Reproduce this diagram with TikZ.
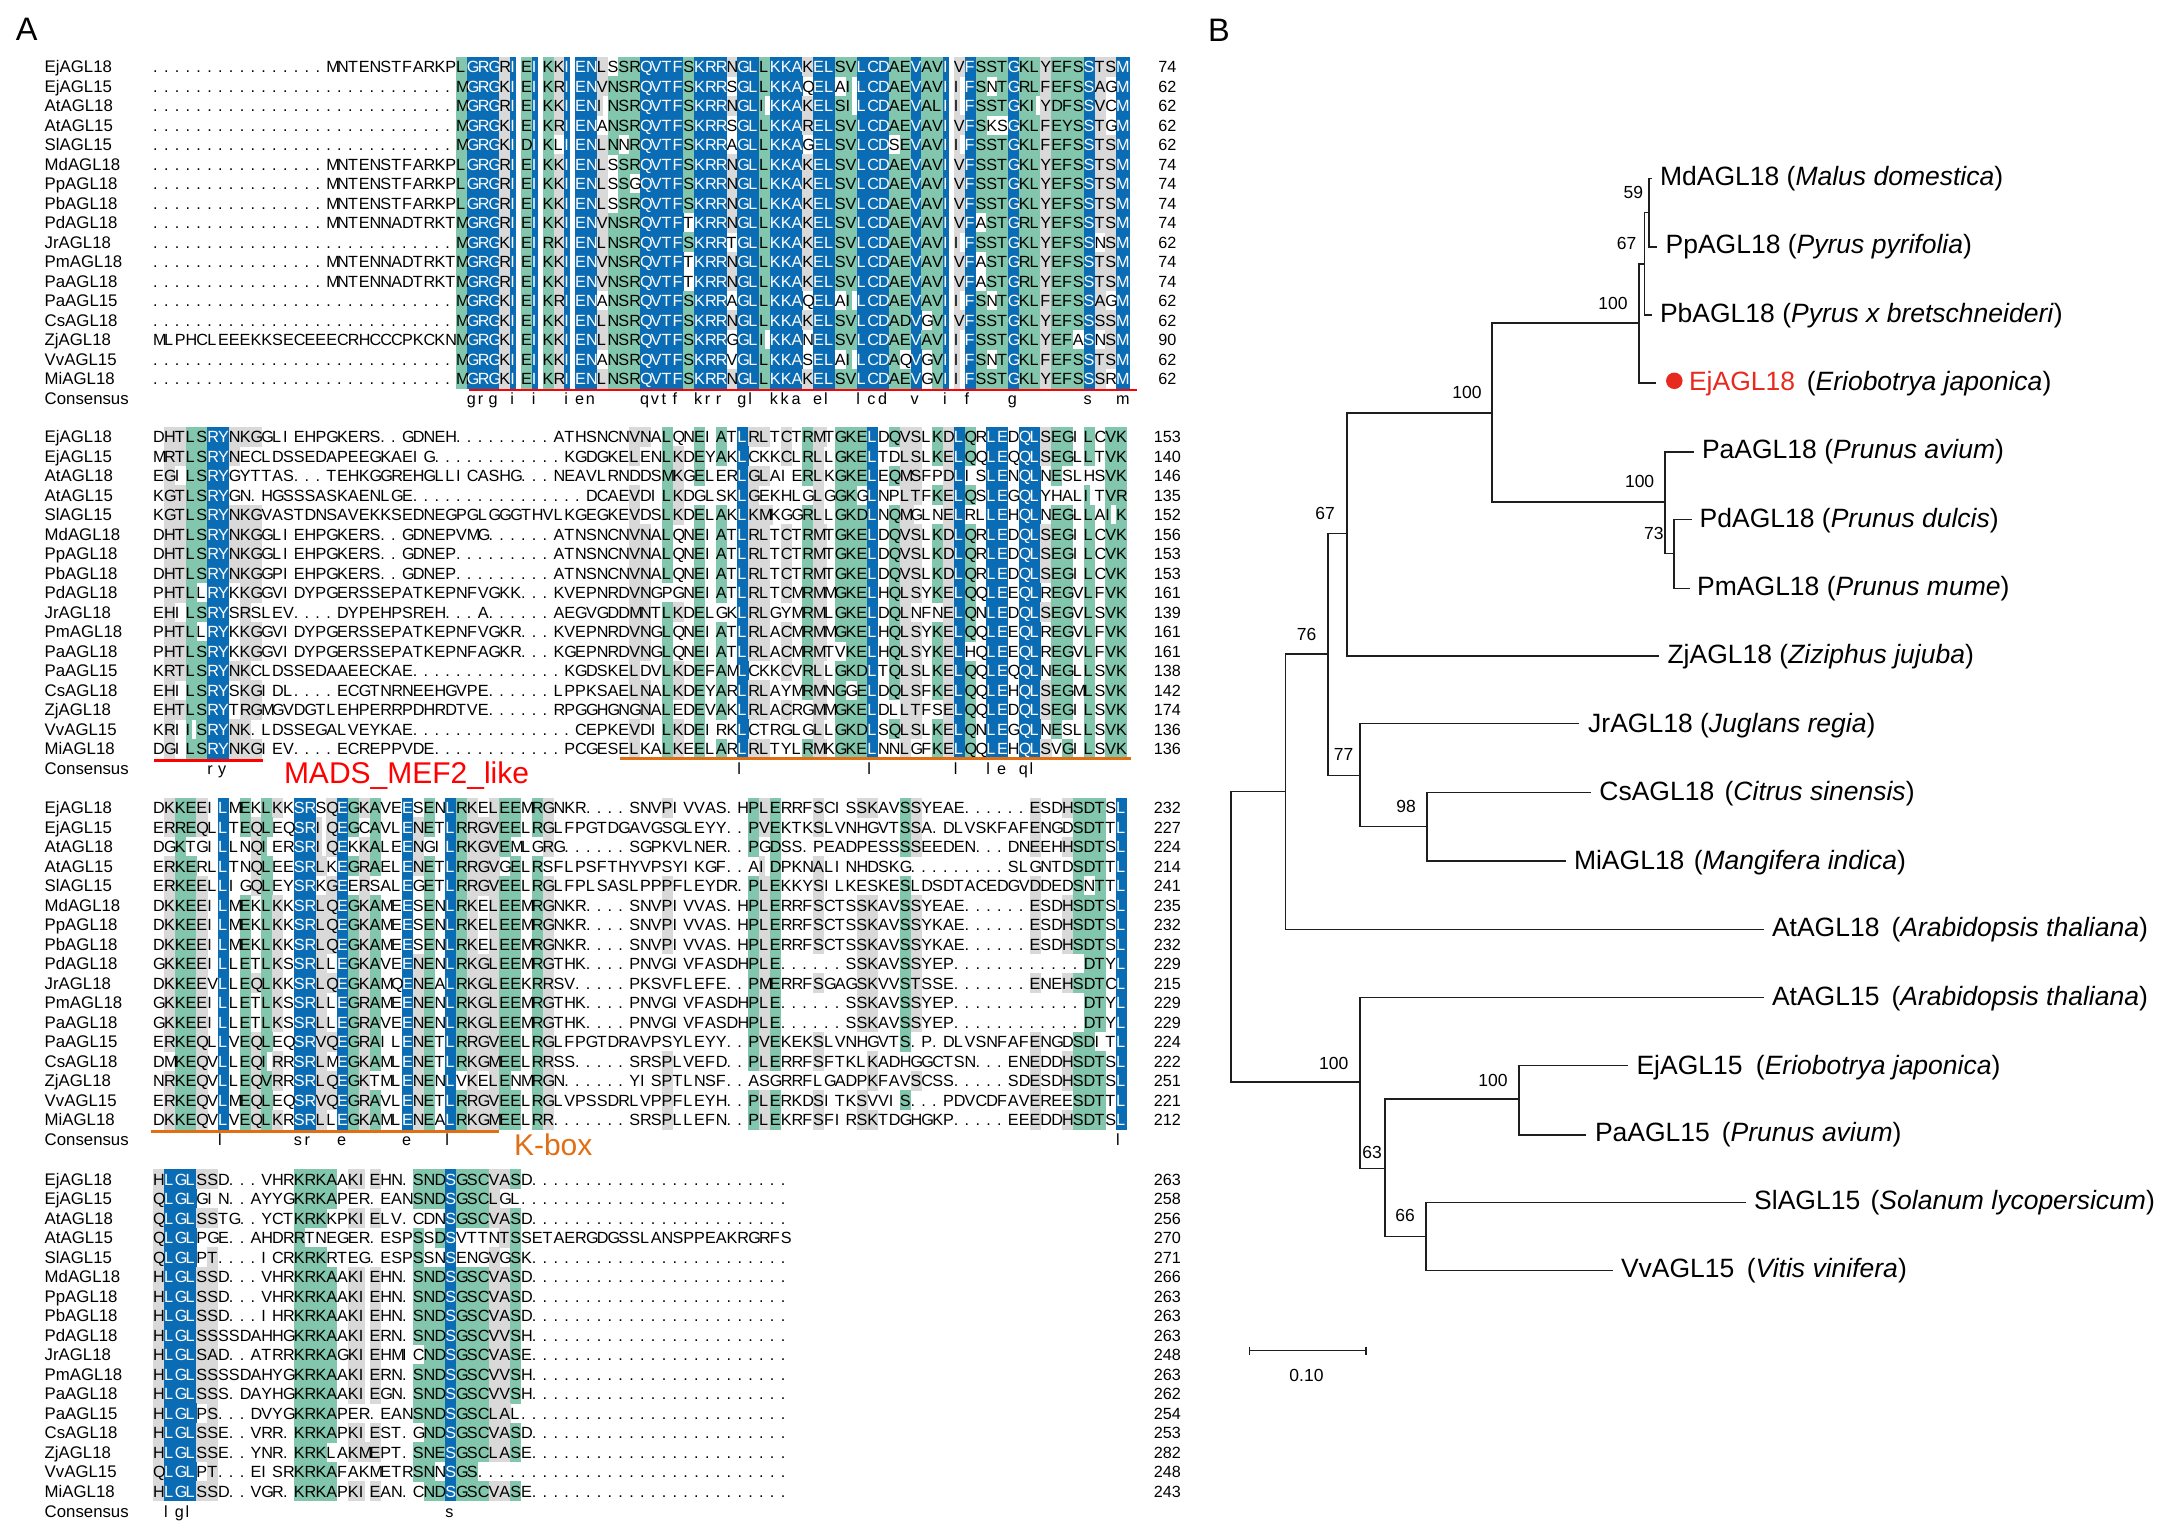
\documentclass[tikz,border=0pt]{standalone}
\usepackage{fontspec}
\setmainfont{Liberation Sans}
\definecolor{agblue}{RGB}{10,108,180}
\definecolor{agteal}{RGB}{130,198,174}
\definecolor{aggrey}{RGB}{217,217,217}
\definecolor{agred}{RGB}{255,0,0}
\definecolor{agorange}{RGB}{226,110,20}
\definecolor{agdot}{RGB}{232,41,30}
\definecolor{agline}{RGB}{30,30,30}
\newcommand\AgSeqFont{\fontsize{16.2pt}{16.2pt}\selectfont}
\newcommand\AgNameFont{\fontsize{16.8pt}{16.8pt}\selectfont}
\newcommand\AgTaxFont{\fontsize{26.5pt}{26.5pt}\selectfont}
\newcommand\AgBootFont{\fontsize{17.5pt}{17.5pt}\selectfont}
\newcommand\AgBigFont{\fontsize{30pt}{30pt}\selectfont}
\newcommand\AgPanelFont{\fontsize{32.5pt}{32.5pt}\selectfont}
\def\AgW{10.82pt}
\def\AgWidth#1{\if I#1 6pt\else\if M#1 14pt\else 11.1pt\fi\fi}
\def\AgRule#1{\vrule width \AgWidth{#1} height 15.8pt depth 4pt}
\newcommand\AgShade[2]{\hbox to \AgW{\ifcase#1\or\color{agblue}\AgRule{#2}\or\color{agteal}\AgRule{#2}\or\color{aggrey}\AgRule{#2}\fi\hss}}
\newcommand\AgLetter[2]{\hbox to \AgW{\ifnum#1=1 \color{white}\fi #2\hss}}
\newcommand\AgCons[1]{\hbox to \AgW{#1\hss}}
\newcommand\AgNode[4]{\node[#1] (#2) at (#3) {#4};}
\def\AgY{0}
\ExplSyntaxOn
\int_new:N \l_ag_r_int
\int_new:N \l_ag_c_int
\int_new:N \l_ag_n_int
\int_new:N \l_ag_lev_int
\tl_new:N \l_ag_top_tl
\tl_new:N \l_ag_a_tl
\tl_new:N \l_ag_b_tl
\bool_new:N \l_ag_sim_bool
\clist_const:Nn \c_ag_letters_clist {A,B,C,D,E,F,G,H,I,J,K,L,M,N,O,P,Q,R,S,T,U,V,W,X,Y,Z}
\clist_map_inline:Nn \c_ag_letters_clist { \int_new:c { l_ag_cnt_#1_int } }
\clist_new:N \l_ag_names_clist
\clist_set:Nn \l_ag_names_clist {EjAGL18,EjAGL15,AtAGL18,AtAGL15,SlAGL15,MdAGL18,PpAGL18,PbAGL18,PdAGL18,JrAGL18,PmAGL18,PaAGL18,PaAGL15,CsAGL18,ZjAGL18,VvAGL15,MiAGL18}
\cs_new_protected:Npn \ag_sim:nn #1#2
 {
  \bool_set_false:N \l_ag_sim_bool
  \clist_map_inline:nn {ILMV,KR,DE,FY}
   { \tl_if_in:nnT {##1} {#1} { \tl_if_in:nnT {##1} {#2} { \bool_set_true:N \l_ag_sim_bool } } }
  \int_compare:nNnT \l_ag_lev_int = 3
   {
    \clist_map_inline:nn {STAV,HQRG,EQ}
     { \tl_if_in:nnT {##1} {#1} { \tl_if_in:nnT {##1} {#2} { \bool_set_true:N \l_ag_sim_bool } } }
   }
 }
\cs_generate_variant:Nn \ag_sim:nn {VV}
\cs_new_protected:Npn \ag_column:n #1
 {
  \clist_map_inline:Nn \c_ag_letters_clist { \int_zero:c { l_ag_cnt_##1_int } }
  \int_step_inline:nn {17}
   {
    \tl_set:Nx \l_ag_a_tl { \tl_use:c { l_ag_x_##1_#1_tl } }
    \str_if_eq:VnF \l_ag_a_tl {.} { \int_incr:c { l_ag_cnt_ \l_ag_a_tl _int } }
   }
  \int_zero:N \l_ag_n_int
  \clist_map_inline:Nn \c_ag_letters_clist
   {
    \int_compare:nNnT { \int_use:c { l_ag_cnt_##1_int } } > \l_ag_n_int
     {
      \int_set:Nn \l_ag_n_int { \int_use:c { l_ag_cnt_##1_int } }
      \tl_set:Nn \l_ag_top_tl {##1}
     }
   }
  \int_compare:nNnTF \l_ag_n_int = {17}
   { \int_set:Nn \l_ag_lev_int {1} }
   {
    \int_compare:nNnTF \l_ag_n_int > {12}
     { \int_set:Nn \l_ag_lev_int {2} }
     {
      \int_compare:nNnTF \l_ag_n_int > {8}
       { \int_set:Nn \l_ag_lev_int {3} }
       { \int_set:Nn \l_ag_lev_int {0} }
     }
   }
  \int_compare:nNnTF \l_ag_lev_int = 1
   { \tl_set:cx { l_ag_cons_#1_tl } { \str_lowercase:f { \l_ag_top_tl } } }
   { \tl_set:cn { l_ag_cons_#1_tl } {} }
  \int_step_inline:nn {17}
   {
    \tl_set:Nx \l_ag_a_tl { \tl_use:c { l_ag_x_##1_#1_tl } }
    \tl_set:cn { l_ag_k_##1_#1_tl } {0}
    \int_compare:nNnT \l_ag_lev_int > 0
     {
      \str_if_eq:VVTF \l_ag_a_tl \l_ag_top_tl
       { \tl_set:cx { l_ag_k_##1_#1_tl } { \int_use:N \l_ag_lev_int } }
       {
        \ag_sim:VV \l_ag_a_tl \l_ag_top_tl
        \bool_if:NT \l_ag_sim_bool
         { \tl_set:cx { l_ag_k_##1_#1_tl } { \int_use:N \l_ag_lev_int } }
       }
     }
   }
 }
\cs_new_protected:Npn \ag_shade_row:nn #1#2
 {
  \int_step_inline:nn {#2}
   {
    \exp_args:Nxx \AgShade { \tl_use:c { l_ag_k_#1_##1_tl } } { \tl_use:c { l_ag_x_#1_##1_tl } }
   }
 }
\cs_new_protected:Npn \ag_text_row:nn #1#2
 {
  \int_step_inline:nn {#2}
   {
    \exp_args:Nxx \AgLetter { \tl_use:c { l_ag_k_#1_##1_tl } } { \tl_use:c { l_ag_x_#1_##1_tl } }
   }
 }
\cs_new_protected:Npn \ag_cons_row:n #1
 {
  \int_step_inline:nn {#1}
   { \exp_args:Nx \AgCons { \tl_use:c { l_ag_cons_##1_tl } } }
 }
% #1 block id, #2 columns, #3 first baseline, #4 numbers, #5 rows
\cs_new_protected:Npn \ag_block:nnnnn #1#2#3#4#5
 {
  \int_zero:N \l_ag_r_int
  \tl_map_inline:nn {#5}
   {
    \int_incr:N \l_ag_r_int
    \int_zero:N \l_ag_c_int
    \tl_map_inline:nn {##1}
     {
      \int_incr:N \l_ag_c_int
      \tl_set:cn { l_ag_x_ \int_use:N \l_ag_r_int _ \int_use:N \l_ag_c_int _tl } {####1}
     }
   }
  \int_step_inline:nn {#2} { \ag_column:n {##1} }
  \int_step_inline:nn {17}
   {
    \tl_set:Nx \AgY { \fp_eval:n { #3 + 19.5 * (##1 - 1) } }
    \AgNode {seqrow} {shade#1r##1} {153.2,\AgY} { \ag_shade_row:nn {##1} {#2} }
   }
  \int_step_inline:nn {17}
   {
    \tl_set:Nx \AgY { \fp_eval:n { #3 + 19.5 * (##1 - 1) } }
    \AgNode {seqrow} {text#1r##1} {153.2,\AgY} { \ag_text_row:nn {##1} {#2} }
    \AgNode {namerow} {name#1r##1} {44.7,\AgY} { \clist_item:Nn \l_ag_names_clist {##1} }
    \AgNode {numrow} {num#1r##1} {1167.4,\AgY} { \clist_item:nn {#4} {##1} }
   }
  \tl_set:Nx \AgY { \fp_eval:n { #3 + 19.5 * 17 + 0.6 } }
  \AgNode {namerow} {name#1c} {44.7,\AgY} {Consensus}
  \AgNode {seqrow} {cons#1} {153.2,\AgY} { \ag_cons_row:n {#2} }
 }
\cs_set_eq:NN \AgBlock \ag_block:nnnnn
\ExplSyntaxOff
\tikzset{
 seqrow/.style={inner sep=0pt,outer sep=0pt,anchor=base west,font=\AgSeqFont},
 namerow/.style={inner sep=0pt,outer sep=0pt,anchor=base west,font=\AgNameFont},
 numrow/.style={inner sep=0pt,outer sep=0pt,anchor=base,font=\AgSeqFont},
 taxon/.style={inner sep=0pt,outer sep=0pt,anchor=base west,font=\AgTaxFont},
 boot/.style={inner sep=0pt,outer sep=0pt,anchor=center,font=\AgBootFont},
 panel/.style={inner sep=0pt,outer sep=0pt,anchor=base west,font=\AgPanelFont},
 biglabel/.style={inner sep=0pt,outer sep=0pt,anchor=base west,font=\AgBigFont},
 tree/.style={draw=agline,line width=1.7pt,line cap=rect},
 domred/.style={draw=agred,line width=2.6pt},
 domorange/.style={draw=agorange,line width=2.6pt},
}
\begin{document}
\begin{tikzpicture}[x=1pt,y=-1pt]
\useasboundingbox (0,0) rectangle (2171,1539);
\node[panel] (panelA) at (16,40) {A};
\node[panel] (panelB) at (1208,41) {B};
\AgBlock{1}{90}{72.5}{74,62,62,62,62,74,74,74,74,62,74,74,62,62,90,62,62}{
{................MNTENSTFARKP LGRGRIEIKKIENLSSRQVTFSKRRNGLLKKAKELSVLCDAEVAVIVFSSTGKLYEFSSTSM}
{............................ MGRGKIEIKRIENVNSRQVTFSKRRSGLLKKAQELAILCDAEVAVIIFSNTGRLFEFSSAGM}
{............................ MGRGRIEIKKIENINSRQVTFSKRRNGLIKKAKELSILCDAEVALIIFSSTGKIYDFSSVCM}
{............................ MGRGKIEIKRIENANSRQVTFSKRRSGLLKKARELSVLCDAEVAVIVFSKSGKLFEYSSTGM}
{............................ MGRGKIDIKLIENLNNRQVTFSKRRAGLLKKAGELSVLCDSEVAVIIFSSTGKLFEFSSTSM}
{................MNTENSTFARKP LGRGRIEIKKIENLSSRQVTFSKRRNGLLKKAKELSVLCDAEVAVIVFSSTGKLYEFSSTSM}
{................MNTENSTFARKP LGRGRIEIKKIENLSSGQVTFSKRRNGLLKKAKELSVLCDAEVAVIVFSSTGKLYEFSSTSM}
{................MNTENSTFARKP LGRGRIEIKKIENLSSRQVTFSKRRNGLLKKAKELSVLCDAEVAVIVFSSTGKLYEFSSTSM}
{................MNTENNADTRKT MGRGRIEIKKIENVNSRQVTFTKRRNGLLKKAKELSVLCDAEVAVIVFASTGRLYEFSSTSM}
{............................ MGRGKIEIRKIENLNSRQVTFSKRRTGLLKKAKELSVLCDAEVAVIIFSSTGKLYEFSSNSM}
{................MNTENNADTRKT MGRGRIEIKKIENVNSRQVTFTKRRNGLLKKAKELSVLCDAEVAVIVFASTGRLYEFSSTSM}
{................MNTENNADTRKT MGRGRIEIKKIENVNSRQVTFTKRRNGLLKKAKELSVLCDAEVAVIVFASTGRLYEFSSTSM}
{............................ MGRGKIEIKRIENANSRQVTFSKRRAGLLKKAQELAILCDAEVAVIIFSNTGKLFEFSSAGM}
{............................ MGRGKIEIKKIENLNSRQVTFSKRRNGLLKKAKELSVLCDADVGVIVFSSTGKLYEFSSSSM}
{MLPHCLEEEKKSECEEECRHCCCPKCKN MGRGKIEIKKIENLNSRQVTFSKRRGGLIKKANELSVLCDAEVAVIIFSSTGKLYEFASNSM}
{............................ MGRGKIEIKKIENANSRQVTFSKRRVGLLKKASELAILCDAQVGVIIFSNTGKLFEFSSTSM}
{............................ MGRGKIEIKRIENLNSRQVTFSKRRNGLLKKAKELSVLCDAEVGVIIFSSTGKLYEFSSSRM}
}
\AgBlock{2}{90}{442.5}{153,140,146,135,152,156,153,153,161,139,161,161,138,142,174,136,136}{
{DHTLSRYNKG GLIEHPGKER S..GDNEH.. .......ATH SNCNVNALQN EIATLRLTCT RMTGKELDQV SLKDLQRLED QLSEGILCVK}
{MRTLSRYNEC LDSSEDAPEE GKAEIG.... ........KG DGKELENLKD EYAKLCKKCL RLLGKELTDL SLKELQQLEQ QLSEGLLTVK}
{EGILSRYGYT TAS...TEHK GGREHGLLIC ASHG...NEA VLRNDDSMKG ELERLGLAIE RLKGKELEQM SFPDLISLEN QLNESLHSVK}
{KGTLSRYGN. HGSSSASKAE NLGE...... .......... DCAEVDILKD GLSKLGEKHL GLGGKGLNPL TFKELQSLEG QLYHALITVR}
{KGTLSRYNKG VASTDNSAVE KKSEDNEGPG LGGGTHVLKG EGKEVDSLKD ELAKLKMKGG RLLGKDLNQM GLNELRLLEH QLNEGLLAIK}
{DHTLSRYNKG GLIEHPGKER S..GDNEPVM G......ATN SNCNVNALQN EIATLRLTCT RMTGKELDQV SLKDLQRLED QLSEGILCVK}
{DHTLSRYNKG GLIEHPGKER S..GDNEP.. .......ATN SNCNVNALQN EIATLRLTCT RMTGKELDQV SLKDLQRLED QLSEGILCVK}
{DHTLSRYNKG GPIEHPGKER S..GDNEP.. .......ATN SNCNVNALQN EIATLRLTCT RMTGKELDQV SLKDLQRLED QLSEGILCVK}
{PHTLLRYKKG GVIDYPGERS SEPATKEPNF VGKK...KVE PNRDVNGPGN EIATLRLTCM RMMGKELHQL SYKELQQLEE QLREGVLFVK}
{EHILSRYSRS LEV....DYP EHPSREH... A......AEG VGDDMNTLKD ELGKLRLGYM RMLGKELDQL NFNELQNLED QLSEGVLSVK}
{PHTLLRYKKG GVIDYPGERS SEPATKEPNF VGKR...KVE PNRDVNGLQN EIATLRLACM RMMGKELHQL SYKELQQLEE QLREGVLFVK}
{PHTLSRYKKG GVIDYPGERS SEPATKEPNF AGKR...KGE PNRDVNGLQN EIATLRLACM RMTVKELHQL SYKELHQLEE QLREGVLFVK}
{KRTLSRYNKC LDSSEDAAEE CKAE...... ........KG DSKELDVLKD EFAMLCKKCV RLLGKDLTQL SLKELQQLEQ QLNEGLLSVK}
{EHILSRYSKG IDL....ECG TNRNEEHGVP E......LPP KSAELNALKD EYARLRLAYM RMNGGELDQL SFKELQQLEH QLSEGMLSVK}
{EHTLSRYTRG MGVDGTLEHP ERRPDHRDTV E......RPG GHGNGNALED EVAKLRLACR GMMGKELDLL TFSELQQLED QLSEGILSVK}
{KRIISRYNK. LDSSEGALVE YKAE...... .........C EPKEVDILKD EIRKLCTRGL GLLGKDLSQL SLKELQNLEG QLNESLLSVK}
{DGILSRYNKG IEV....ECR EPPVDE.... ........PC GESELKALKE ELARLRLTYL RMKGKELNNL GFKELQQLEH QLSVGILSVK}
}
\AgBlock{3}{90}{813.5}{232,227,224,214,241,235,232,232,229,215,229,229,224,222,251,221,212}{
{DKKEEILMEK LKKSRSQEGK AVEESENLRK ELEEMRGNKR ....SNVPIV VAS.HPLERR FSCISSKAVS SYEAE..... .ESDHSDTSL}
{ERREQLLTEQ LEQSRIQEGC AVLENETLRR GVEELRGLFP GTDGAVGSGL EYY..PVEKT KSLVNHGVTS SA.DLVSKFA FENGDSDTTL}
{DGKTGILLNQ IERSRIQEKK ALEENGILRK GVEMLGRG.. ....SGPKVL NER..PGDSS .PEADPESSS SEEDEN...D NEEHHSDTSL}
{ERKERLLTNQ LEESRLKEGR AELENETLRR GVGELRSFLP SFTHYVPSYI KGF..AIDPK NALINHDSKG .........S LGNTDSDTTL}
{ERKEELLIGQ LEYSRKGEER SALEGETLRR GVEELRGLFP LSASLPPPFL EYDR.PLEKK YSILKESKES LDSDTACEDG VDDEDSNTTL}
{DKKEEILMEK LKKSRLQEGK AMEESENLRK ELEEMRGNKR ....SNVPIV VAS.HPLERR FSCTSSKAVS SYEAE..... .ESDHSDTSL}
{DKKEEILMEK LKKSRLQEGK AMEESENLRK ELEEMRGNKR ....SNVPIV VAS.HPLERR FSCTSSKAVS SYKAE..... .ESDHSDTSL}
{DKKEEILMEK LKKSRLQEGK AMEESENLRK ELEEMRGNKR ....SNVPIV VAS.HPLERR FSCTSSKAVS SYKAE..... .ESDHSDTSL}
{GKKEEILLET LKSSRLLEGK AVEENENLRK GLEEMRGTHK ....PNVGIV FASDHPLE.. ....SSKAVS SYEP...... ......DTYL}
{DKKEEVLLEQ LKKSRLQEGK AMQENEALRK GLEEKRRSV. ....PKSVFL EFE..PMERR FSGAGSKVVS TSSE...... .ENEHSDTCL}
{GKKEEILLET LKSSRLLEGR AMEENENLRK GLEEMRGTHK ....PNVGIV FASDHPLE.. ....SSKAVS SYEP...... ......DTYL}
{GKKEEILLET LKSSRLLEGR AVEENENLRK GLEEMRGTHK ....PNVGIV FASDHPLE.. ....SSKAVS SYEP...... ......DTYL}
{ERKEQLLVEQ LEQSRVQEGR AILENETLRR GVEELRGLFP GTDRAVPSYL EYY..PVEKE KSLVNHGVTS .P.DLVSNFA FENGDSDITL}
{DMKEQVLLEQ IRRSRLMEGK AMLENETLRK GMEELRRSS. ....SRSPLV EFD..PLERR FSFTKLKADH GGCTSN...E NEDDHSDTSL}
{NRKEQVLLEQ VRRSRLQEGK TMLENENLVK ELENMRGN.. ....YISPTL NSF..ASGRR FLGADPKFAV SCSS.....S DESDHSDTSL}
{ERKEQVLMEQ LEQSRVQEGR AVLENETLRR GVEELRGLVP SSDRLVPPFL EYH..PLERK DSITKSVVIS ...PDVCDFA VEREESDTTL}
{DKKEQVLVEQ LKRSRLLEGK AMLENEALRK GMEELRR... ....SRSPLL EFN..PLEKR FSFIRSKTDG HGKP.....E EEDDHSDTSL}
}
\AgBlock{4}{59}{1185}{263,258,256,270,271,266,263,263,263,248,263,262,254,253,282,248,243}{
{HLGLSSD... VHRKRKAAKI EHN.SNDSGS CVASD..... .......... .........}
{QLGLGIN..A YYGKRKAPER .EANSNDSGS CLGL...... .......... .........}
{QLGLSSTG.. YCTKRKKPKI ELV.CDNSGS CVASD..... .......... .........}
{QLGLPGE..A HDRRTNEGER .ESPSSDSVT TNTSSETAER GDGSSLANSP PEAKRGRFS}
{QLGLPT.... ICRKRKRTEG .ESPSSNSEN GVGSK..... .......... .........}
{HLGLSSD... VHRKRKAAKI EHN.SNDSGS CVASD..... .......... .........}
{HLGLSSD... VHRKRKAAKI EHN.SNDSGS CVASD..... .......... .........}
{HLGLSSD... IHRKRKAAKI EHN.SNDSGS CVASD..... .......... .........}
{HLGLSSSSDA HHGKRKAAKI ERN.SNDSGS CVVSH..... .......... .........}
{HLGLSAD..A TRRKRKAGKI EHMICNDSGS CVASE..... .......... .........}
{HLGLSSSSDA HYGKRKAAKI ERN.SNDSGS CVVSH..... .......... .........}
{HLGLSSS.DA YHGKRKAAKI EGN.SNDSGS CVVSH..... .......... .........}
{HLGLPS...D VYGKRKAPER .EANSNDSGS CLAL...... .......... .........}
{HLGLSSE..V RR.KRKAPKI EST.GNDSGS CVASD..... .......... .........}
{HLGLSSE..Y NR.KRKLAKM EPT.SNESGS CLASE..... .......... .........}
{QLGLPT...E ISRKRKAFAK METRSNNSGS .......... .......... .........}
{HLGLSSD..V GR.KRKAPKI EAN.CNDSGS CVASE..... .......... .........}
}
% domain bars and labels
\coordinate (redAa) at (468.6,390); \coordinate (redAb) at (1137,390);
\coordinate (redBa) at (154,760.7); \coordinate (redBb) at (263,760.7);
\coordinate (orBa) at (620,758.3); \coordinate (orBb) at (1130.6,758.3);
\coordinate (orCa) at (150.6,1131.5); \coordinate (orCb) at (499,1131.5);
\draw[domred] (redAa) -- (redAb);
\draw[domred] (redBa) -- (redBb);
\draw[domorange] (orBa) -- (orBb);
\draw[domorange] (orCa) -- (orCb);
\node[biglabel,text=agred] (madsLabel) at (284,783) {MADS\_MEF2\_like};
\node[biglabel,text=agorange] (kboxLabel) at (514,1155) {K-box};
% tree coordinates
\foreach \n/\x/\y in {a1/1649/178.6,tMd/1651.5/178.6,a2/1649/246.9,tPp/1656/246.9,a0/1649/212.5,b0/1644.6/212.5,b2/1644.6/314.7,tPb/1651/314.7,b1/1644.6/263.8,c1/1639/263.8,c2/1639/383,tEj/1655/383,c0/1639/322.8,d1/1492.3/322.8,d2/1492.3/502.2,e0/1665/502.2,e1/1665/451.8,tPa/1693.5/451.8,e2/1665/553.6,f0/1674.3/553.6,f1/1674.3/519.6,tPd/1691/519.6,f2/1674.3/588.4,tPm/1689/588.4,d0/1492.3/413,g0/1346.7/413,g2/1346.7/656.3,tZj/1658/656.3,g1/1346.7/533.5,h1/1328.2/533.5,h2/1328.2/775.5,i0/1359.8/775.5,i1/1359.8/723.6,tJr/1577.7/723.6,i2/1359.8/826.4,j0/1427.2/826.4,j1/1427.2/792.5,tCs/1590/792.5,j2/1427.2/860.8,tMi/1565.3/860.8,h0/1328.2/654,k1/1285.4/654,k2/1285.4/929.6,tAe/1763.5/929.6,k0/1285.4/791.5,r1/1231/791.5,r2/1231/1082.3,l0/1359.8/1082.3,l1/1359.8/997.5,tAf/1763.5/997.5,l2/1359.8/1168.6,m0/1385/1168.6,m1/1385/1099.3,n0/1518.9/1099.3,n1/1518.9/1065.4,tEf/1627.2/1065.4,n2/1518.9/1134.7,tPf/1585.1/1134.7,m2/1385/1236.5,o0/1426/1236.5,o1/1426/1202.5,tSl/1744.9/1202.5,o2/1426/1270.4,tVv/1611.8/1270.4,sa/1249.5/1350.4,sb/1366/1350.4,saT/1249.5/1346.5,saB/1249.5/1354.5,sbT/1366/1346.5,sbB/1366/1354.5}
  {\coordinate (\n) at (\x,\y);}
\draw[tree] (tMd)--(a1)--(a2)--(tPp) (a0)--(b0) (b1)--(b0)--(b2)--(tPb) (b1)--(c1)--(c2)--(tEj)
 (c0)--(d1)--(d2)--(e0) (tPa)--(e1)--(e2)--(f0) (tPd)--(f1)--(f2)--(tPm)
 (d0)--(g0)--(g2)--(tZj) (g1)--(h1)--(h2)--(i0) (tJr)--(i1)--(i2)--(j0) (tCs)--(j1)--(j2)--(tMi)
 (h0)--(k1)--(k2)--(tAe) (k0)--(r1)--(r2)--(l0) (tAf)--(l1)--(l2)--(m0) (n0)--(m1)--(m2)--(o0)
 (tEf)--(n1)--(n2)--(tPf) (tSl)--(o1)--(o2)--(tVv);
\draw[agline,line width=1.5pt] (sa)--(sb) (saT)--(saB) (sbT)--(sbB);
% taxa
\node[taxon] (lMd) at (1660,185.5) {MdAGL18 (\textit{Malus domestica})};
\node[taxon] (lPp) at (1665.6,253.5) {PpAGL18 (\textit{Pyrus pyrifolia})};
\node[taxon] (lPb) at (1660,322) {PbAGL18 (\textit{Pyrus x bretschneideri})};
\node[circle,fill=agdot,inner sep=0pt,minimum size=16.5pt] (dotEj) at (1674.3,380.8) {};
\node[taxon,text=agdot] (lEj) at (1689,390.3) {EjAGL18};
\node[taxon] (lEjS) at (1806.8,390.3) {(\textit{Eriobotrya japonica})};
\node[taxon] (lPa) at (1702,458.5) {PaAGL18 (\textit{Prunus avium})};
\node[taxon] (lPd) at (1699.7,527.5) {PdAGL18 (\textit{Prunus dulcis})};
\node[taxon] (lPm) at (1697.2,595.5) {PmAGL18 (\textit{Prunus mume})};
\node[taxon] (lZj) at (1667.5,663.5) {ZjAGL18 (\textit{Ziziphus jujuba})};
\node[taxon] (lJr) at (1588.2,732.2) {JrAGL18 (\textit{Juglans regia})};
\node[taxon] (lCs) at (1599.4,800) {CsAGL18\hspace{3pt} (\textit{Citrus sinensis})};
\node[taxon] (lMi) at (1574,869) {MiAGL18\hspace{2pt} (\textit{Mangifera indica})};
\node[taxon] (lAe) at (1772,936.7) {AtAGL18\hspace{4.7pt} (\textit{Arabidopsis thaliana})};
\node[taxon] (lAf) at (1772,1005.5) {AtAGL15\hspace{4.7pt} (\textit{Arabidopsis thaliana})};
\node[taxon] (lEf) at (1636.5,1074) {EjAGL15\hspace{6pt} (\textit{Eriobotrya japonica})};
\node[taxon] (lPf) at (1595,1141.8) {PaAGL15\hspace{4.6pt} (\textit{Prunus avium})};
\node[taxon] (lSl) at (1754.2,1209.5) {SlAGL15\hspace{3pt} (\textit{Solanum lycopersicum})};
\node[taxon] (lVv) at (1621,1277.5) {VvAGL15\hspace{5pt} (\textit{Vitis vinifera})};
% bootstrap values
\node[boot] (bs1) at (1633.4,192) {59};
\node[boot] (bs2) at (1626.6,243.3) {67};
\node[boot] (bs3) at (1613,303) {100};
\node[boot] (bs4) at (1466.9,392.4) {100};
\node[boot] (bs5) at (1639.6,481.7) {100};
\node[boot] (bs6) at (1653.9,533.5) {73};
\node[boot] (bs7) at (1325,513.8) {67};
\node[boot] (bs8) at (1306.5,634) {76};
\node[boot] (bs9) at (1343.7,754.2) {77};
\node[boot] (bs10) at (1406.2,806) {98};
\node[boot] (bs11) at (1333.7,1063) {100};
\node[boot] (bs12) at (1492.9,1080) {100};
\node[boot] (bs13) at (1372,1152.6) {63};
\node[boot] (bs14) at (1405,1215.6) {66};
\node[boot] (scaleLabel) at (1306.5,1375.6) {0.10};
\end{tikzpicture}
\end{document}
